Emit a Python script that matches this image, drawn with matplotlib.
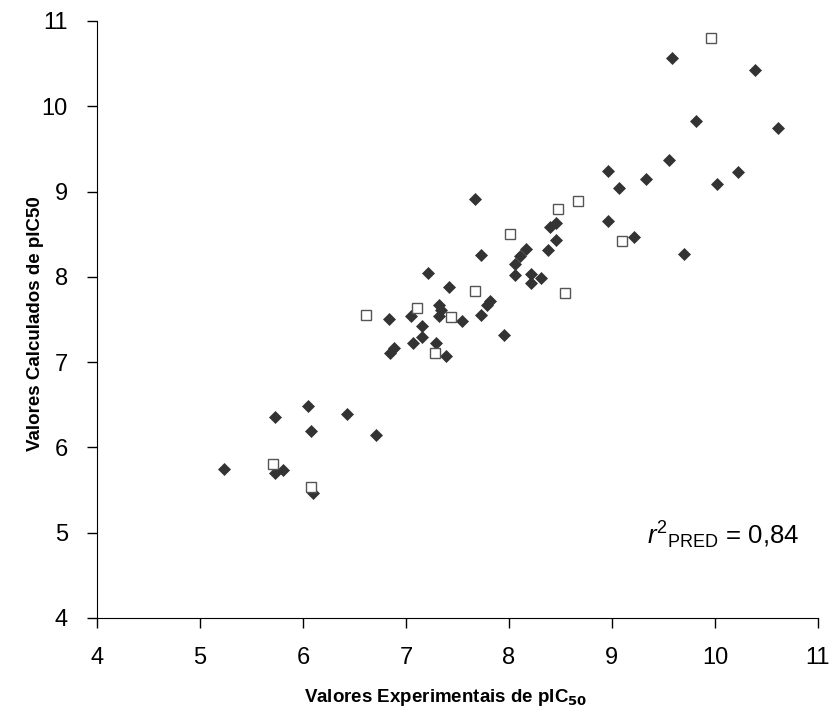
import matplotlib
matplotlib.use("Agg")
import matplotlib.pyplot as plt

# valores lidos do gráfico
# conjunto de treino (losangos cheios)
treino_exp = [5.23, 5.73, 5.73, 5.81, 6.05, 6.08, 6.10, 6.43, 6.71, 6.84, 6.85, 6.88,
              7.05, 7.07, 7.16, 7.16, 7.21, 7.29, 7.32, 7.34, 7.32, 7.39, 7.42, 7.54,
              7.67, 7.73, 7.73, 7.79, 7.82, 7.95, 8.06, 8.06, 8.11, 8.17, 8.21, 8.21,
              8.31, 8.38, 8.40, 8.46, 8.46, 8.96, 8.96, 9.07, 9.21, 9.33, 9.55, 9.58,
              9.70, 9.82, 10.02, 10.22, 10.39, 10.61]
treino_calc = [5.75, 6.36, 5.70, 5.74, 6.49, 6.19, 5.46, 6.39, 6.15, 7.50, 7.11, 7.17,
               7.54, 7.22, 7.42, 7.29, 8.05, 7.22, 7.67, 7.61, 7.54, 7.07, 7.88, 7.48,
               8.91, 8.26, 7.55, 7.67, 7.72, 7.32, 8.15, 8.02, 8.24, 8.33, 8.03, 7.93,
               7.99, 8.31, 8.58, 8.63, 8.43, 9.24, 8.66, 9.04, 8.47, 9.15, 9.37, 10.57,
               8.27, 9.83, 9.09, 9.23, 10.42, 9.75]

# conjunto de teste (quadrados vazios)
teste_exp = [5.71, 6.08, 6.61, 7.11, 7.28, 7.44, 7.67, 8.01, 8.48, 8.54, 8.67, 9.10, 9.96]
teste_calc = [5.80, 5.54, 7.55, 7.63, 7.11, 7.53, 7.83, 8.50, 8.79, 7.81, 8.89, 8.42, 10.80]

ticks = [4, 5, 6, 7, 8, 9, 10, 11]

plt.rcParams['font.family'] = ['Liberation Sans', 'DejaVu Sans']
plt.rcParams['mathtext.fontset'] = 'custom'
plt.rcParams['mathtext.rm'] = 'Liberation Sans'
plt.rcParams['mathtext.it'] = 'Liberation Sans:italic'

fig = plt.figure(figsize=(8.33, 7.16), dpi=100)
ax = fig.add_axes([0.1164, 0.1369, 0.8655, 0.8338])

ax.plot(treino_exp, treino_calc, linestyle='none', marker='D', markersize=6,
        markerfacecolor='#333333', markeredgecolor='#333333', markeredgewidth=0.5)
ax.plot(teste_exp, teste_calc, linestyle='none', marker='s', markersize=7.5,
        markerfacecolor='white', markeredgecolor='#555555', markeredgewidth=1.0)

ax.set_xlim(4, 11)
ax.set_ylim(4, 11)
ax.set_xticks(ticks)
ax.set_yticks(ticks)
ax.spines['top'].set_visible(False)
ax.spines['right'].set_visible(False)
ax.tick_params(axis='both', direction='out', length=7, width=1, labelsize=17)
ax.tick_params(axis='x', pad=14)
ax.tick_params(axis='y', pad=14)

ax.text(10.82, 4.86, r'$r^{2}{}_{\mathrm{PRED}}$ = 0,84', fontsize=18.5,
        ha='right', va='baseline')

fig.text(0.535, 0.026, r'Valores Experimentais de pIC$_{\mathbf{50}}$',
         fontsize=13.5, fontweight='bold', ha='center', va='center')
fig.text(0.043, 0.548, 'Valores Calculados de pIC50', fontsize=13.5,
         fontweight='bold', rotation=90, ha='center', va='center')

fig.savefig('out.png', dpi=100)
